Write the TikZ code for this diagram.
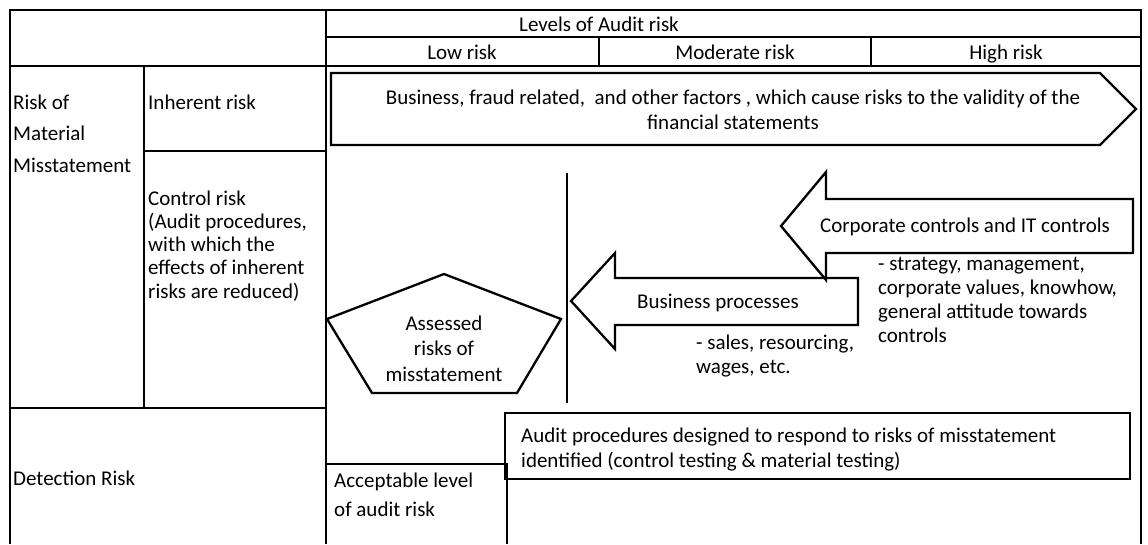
\documentclass[tikz,border=0pt]{standalone}
\usepackage{fontspec}
\setmainfont{Carlito}
\usepackage{tikz}

\begin{document}
\begin{tikzpicture}[x=1pt,y=-1pt,
  tbl/.style={line width=2pt},
  shp/.style={line width=2.3pt},
  lbl/.style={inner sep=0pt, font=\fontsize{21}{25}\selectfont},
  lsp/.style={font=\fontsize{21}{#1}\selectfont},
  lbll/.style={lbl, align=left, anchor=base west},
  lblc/.style={lbl, align=center, anchor=base}]
  \useasboundingbox (0,0) rectangle (1148,544);
  \draw[tbl] (10,544) |- (1141,10) -- (1141,544);
  \draw[tbl] (326,37) -- (1141,37);
  \draw[tbl] (10,66) -- (1141,66);
  \draw[tbl] (326,10) -- (326,544);
  \draw[tbl] (599,37) -- (599,66) (871,37) -- (871,66);
  \draw[tbl] (144,66) -- (144,408);
  \draw[tbl] (144,151) -- (326,151);
  \draw[tbl] (10,408) -- (326,408);
  \draw[tbl] (326,464) -- (507,464) -- (507,544);
  \node [lblc] (levels) at (599,31) {Levels of Audit risk};
  \node [lblc] (low) at (462,59) {Low risk};
  \node [lblc] (moderate) at (735,59) {Moderate risk};
  \node [lblc] (high) at (1006,59) {High risk};
  \node [lbll, lsp=31.5] (rmm) at (13,172) {Risk of\\Material\\Misstatement};
  \node [lbll] (inherent) at (148,109) {Inherent risk};
  \node [lbll, lsp=23.25] (control) at (148,298) {Control risk\\(Audit procedures,\\with which the\\effects of inherent\\risks are reduced)};
  \node [lbll] (detection) at (13,485) {Detection Risk};
  \node [lbll, lsp=29] (acceptable) at (334,516) {Acceptable level\\of audit risk};
  \draw[shp] (331,73) -- (1100,73) -- (1136,109) -- (1100,145) -- (331,145) -- cycle;
  \node [lblc] (factors) at (733,129) {Business, fraud related,~ and other factors , which cause risks to the validity of the\\financial statements};
  \draw[shp] (567,173) -- (567,403);
  \draw[shp] (1133,199) -- (826,199) -- (826,172) -- (781,226) -- (826,280) -- (826,253) -- (1133,253) -- cycle;
  \node [lblc] (corporate) at (965,232) {Corporate controls and IT controls};
  \node [lbll, lsp=23.7] (corpitems) at (878,342) {- strategy, management,\\corporate values, knowhow,\\general attitude towards\\controls};
  \draw[shp] (858,278) -- (615,278) -- (615,253) -- (571,301) -- (615,349) -- (615,325) -- (858,325) -- cycle;
  \node [lblc] (processes) at (718,308) {Business processes};
  \node [lbll, lsp=24] (procitems) at (696,373) {- sales, resourcing,\\wages, etc.};
  \draw[shp] (444,274) -- (561,319) -- (517,393) -- (372,393) -- (327,319) -- cycle;
  \node [lblc, lsp=25.5] (assessed) at (444,381) {Assessed\\risks of\\misstatement};
  \draw[shp] (505,413) rectangle (1130,479);
  \node [lbll] (procedures) at (521,467) {Audit procedures designed to respond to risks of misstatement\\identified (control testing \& material testing)};
\end{tikzpicture}
\end{document}
